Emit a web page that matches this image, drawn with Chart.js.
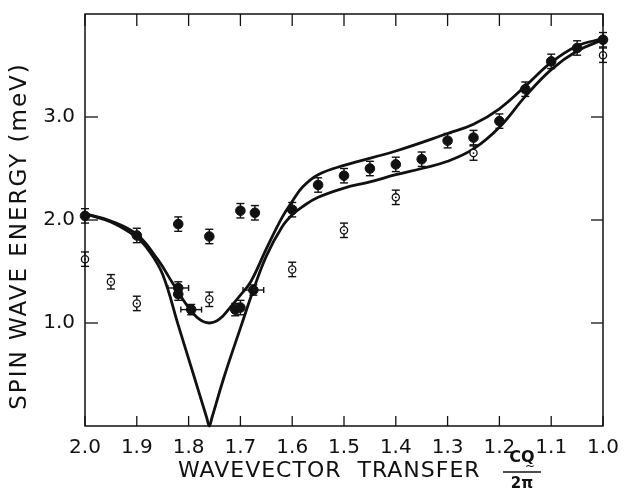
<!DOCTYPE html>
<html>
<head>
<meta charset="utf-8">
<script src="https://cdn.jsdelivr.net/npm/chart.js@4.4.0/dist/chart.umd.min.js"></script>
<style>
  body { margin: 0; background: #fff; }
</style>
</head>
<body>
<canvas id="myChart" width="624" height="490"></canvas>
<script>
    // wavevector transfer (cQ/2pi) and spin wave energy (meV)
    var filledQ   = [2.0, 1.90, 1.82, 1.76, 1.82, 1.82, 1.795, 1.70, 1.672, 1.71, 1.70, 1.675, 1.60, 1.55, 1.50, 1.45, 1.40, 1.35, 1.30, 1.25, 1.20, 1.15, 1.10, 1.05, 1.00];
    var filledE   = [2.04, 1.85, 1.96, 1.84, 1.34, 1.28, 1.13, 2.09, 2.07, 1.13, 1.15, 1.32, 2.10, 2.34, 2.43, 2.50, 2.54, 2.59, 2.77, 2.80, 2.96, 3.27, 3.54, 3.67, 3.75];
    var filledErr = [0.07, 0.07, 0.07, 0.07, 0.06, 0.06, 0.05, 0.07, 0.07, 0.06, 0.07, 0.05, 0.07, 0.07, 0.07, 0.07, 0.07, 0.07, 0.07, 0.07, 0.07, 0.07, 0.07, 0.07, 0.07];
    var filledQErr = [0, 0, 0, 0, 0.02, 0, 0.02, 0, 0, 0, 0, 0.02, 0, 0, 0, 0, 0, 0, 0, 0, 0, 0, 0, 0, 0];

    var openQ   = [2.0, 1.95, 1.90, 1.76, 1.60, 1.50, 1.40, 1.25, 1.00];
    var openE   = [1.62, 1.40, 1.19, 1.23, 1.52, 1.90, 2.22, 2.65, 3.60];
    var openErr = [0.07, 0.07, 0.07, 0.07, 0.07, 0.07, 0.07, 0.07, 0.07];

    // theory curve with the gap (min ~1.0 meV)
    var dipQ = [2.0, 1.95, 1.9, 1.86, 1.83, 1.8, 1.78, 1.76, 1.74, 1.72, 1.7, 1.68, 1.65, 1.62, 1.6, 1.58, 1.55, 1.5, 1.4, 1.3, 1.25, 1.2, 1.15, 1.1, 1.05, 1.0];
    var dipE = [2.06, 1.99, 1.86, 1.62, 1.38, 1.15, 1.04, 1.0, 1.04, 1.15, 1.27, 1.40, 1.72, 2.02, 2.18, 2.32, 2.44, 2.53, 2.67, 2.84, 2.93, 3.08, 3.3, 3.53, 3.69, 3.76];

    // theory curve going to zero
    var zeroQ = [2.0, 1.95, 1.9, 1.875, 1.85, 1.82, 1.79, 1.765, 1.76, 1.755, 1.73, 1.70, 1.675, 1.65, 1.62, 1.6, 1.58, 1.55, 1.5, 1.45, 1.4, 1.35, 1.3, 1.25, 1.2, 1.15, 1.1, 1.05, 1.0];
    var zeroE = [2.06, 1.98, 1.83, 1.69, 1.47, 0.98, 0.49, 0.08, 0.0, 0.08, 0.5, 0.95, 1.32, 1.65, 1.93, 2.05, 2.13, 2.22, 2.31, 2.37, 2.44, 2.50, 2.57, 2.69, 2.9, 3.2, 3.46, 3.64, 3.75];

    var xTickVals = [2.0, 1.9, 1.8, 1.7, 1.6, 1.5, 1.4, 1.3, 1.2, 1.1, 1.0];
    var yTickVals = [1.0, 2.0, 3.0];

    var FONT = "'DejaVu Sans', sans-serif";
    var INK = '#111';

    function toPoints(xs, ys) {
        var pts = [];
        for (let i = 0; i < xs.length; i++) {
            pts.push({ x: xs[i], y: ys[i] });
        }
        return pts;
    }

    function seg(ctx, x1, y1, x2, y2) {
        ctx.beginPath();
        ctx.moveTo(x1, y1);
        ctx.lineTo(x2, y2);
        ctx.stroke();
    }

    var errorBars = {
        id: 'errorBars',
        beforeDatasetsDraw: function(chart) {
            var ctx = chart.ctx, xs = chart.scales.x, ys = chart.scales.y;
            ctx.save();
            ctx.strokeStyle = INK;
            ctx.lineWidth = 1.4;
            function bars(q, e, err, qerr) {
                for (let i = 0; i < q.length; i++) {
                    var px = xs.getPixelForValue(q[i]);
                    var top = ys.getPixelForValue(e[i] + err[i]);
                    var bot = ys.getPixelForValue(e[i] - err[i]);
                    seg(ctx, px, top, px, bot);
                    seg(ctx, px - 4, top, px + 4, top);
                    seg(ctx, px - 4, bot, px + 4, bot);
                    if (qerr && qerr[i] > 0) {
                        var py = ys.getPixelForValue(e[i]);
                        var l = xs.getPixelForValue(q[i] + qerr[i]);
                        var r = xs.getPixelForValue(q[i] - qerr[i]);
                        seg(ctx, l, py, r, py);
                        seg(ctx, l, py - 3, l, py + 3);
                        seg(ctx, r, py - 3, r, py + 3);
                    }
                }
            }
            bars(filledQ, filledE, filledErr, filledQErr);
            bars(openQ, openE, openErr, null);
            ctx.restore();
        },
        afterDatasetsDraw: function(chart) {
            var ctx = chart.ctx, xs = chart.scales.x, ys = chart.scales.y, a = chart.chartArea;
            ctx.save();
            ctx.strokeStyle = INK;
            ctx.lineWidth = 1.5;
            ctx.strokeRect(a.left, a.top, a.right - a.left, a.bottom - a.top);
            ctx.lineWidth = 1.3;
            xTickVals.forEach(function(v) {
                var px = xs.getPixelForValue(v);
                seg(ctx, px, a.bottom, px, a.bottom - 10);
                seg(ctx, px, a.top, px, a.top + 12);
            });
            yTickVals.forEach(function(v) {
                var py = ys.getPixelForValue(v);
                seg(ctx, a.left, py, a.left + 13, py);
                seg(ctx, a.right, py, a.right - 12, py);
            });

            ctx.fillStyle = INK;
            ctx.textBaseline = 'alphabetic';

            // y axis title
            ctx.save();
            ctx.translate(26, 236);
            ctx.rotate(-Math.PI / 2);
            ctx.font = '23px ' + FONT;
            ctx.letterSpacing = '2px';
            ctx.textAlign = 'center';
            ctx.fillText('SPIN WAVE ENERGY (meV)', 0, 0);
            ctx.restore();

            // x axis title with the cQ/2pi fraction
            ctx.font = '22px ' + FONT;
            ctx.letterSpacing = '1px';
            ctx.textAlign = 'left';
            ctx.fillText('WAVEVECTOR  TRANSFER', 178, 477);
            ctx.letterSpacing = '0px';
            ctx.font = 'bold 16px ' + FONT;
            ctx.textAlign = 'center';
            ctx.fillText('CQ', 522, 462);
            ctx.font = '12px ' + FONT;
            ctx.fillText('~', 530, 470);
            ctx.lineWidth = 1.6;
            seg(ctx, 503, 472, 541, 472);
            ctx.font = 'bold 15px ' + FONT;
            ctx.fillText('2\u03C0', 522, 488);
            ctx.restore();
        }
    };

    const ctx = document.getElementById('myChart').getContext('2d');
    var myChart = new Chart(ctx, {
        type: 'scatter',
        data: {
            datasets: [{
                    label: 'filled',
                    data: toPoints(filledQ, filledE),
                    pointRadius: 4.8,
                    pointBackgroundColor: INK,
                    pointBorderColor: INK,
                    pointBorderWidth: 1,
                    clip: false
                },
                {
                    label: 'open centre',
                    data: toPoints(openQ, openE),
                    pointRadius: 0.9,
                    pointBackgroundColor: INK,
                    pointBorderColor: INK,
                    pointBorderWidth: 0,
                    clip: false
                },
                {
                    label: 'open',
                    data: toPoints(openQ, openE),
                    pointRadius: 3.6,
                    pointBackgroundColor: '#fff',
                    pointBorderColor: INK,
                    pointBorderWidth: 1.3,
                    clip: false
                },
                {
                    label: 'theory gap',
                    data: toPoints(dipQ, dipE),
                    showLine: true,
                    borderColor: INK,
                    borderWidth: 2.8,
                    pointRadius: 0,
                    tension: 0.4,
                    clip: false
                },
                {
                    label: 'theory zero',
                    data: toPoints(zeroQ, zeroE),
                    showLine: true,
                    borderColor: INK,
                    borderWidth: 2.8,
                    pointRadius: 0,
                    tension: 0.4,
                    clip: false
                }
            ]
        },
        options: {
            responsive: false,
            animation: false,
            devicePixelRatio: 1,
            layout: { padding: { top: 14, right: 21, left: 0, bottom: 0 } },
            plugins: {
                legend: { display: false },
                tooltip: { enabled: false }
            },
            scales: {
                x: {
                    type: 'linear',
                    min: 1.0,
                    max: 2.0,
                    reverse: true,
                    grid: { display: false },
                    border: { display: false },
                    ticks: {
                        stepSize: 0.1,
                        color: INK,
                        padding: 2,
                        maxRotation: 0,
                        font: { family: FONT, size: 20 },
                        callback: function(v) { return Number(v).toFixed(1); }
                    },
                    afterFit: function(scale) { scale.height = 64; }
                },
                y: {
                    min: 0,
                    max: 4,
                    grid: { display: false },
                    border: { display: false },
                    ticks: {
                        stepSize: 1,
                        color: INK,
                        padding: 2,
                        font: { family: FONT, size: 20 },
                        callback: function(v) {
                            return (v >= 1 && v <= 3) ? Number(v).toFixed(1) : '';
                        }
                    },
                    afterFit: function(scale) { scale.width = 85; }
                }
            }
        },
        plugins: [errorBars]
    });
</script>
</body>
</html>
